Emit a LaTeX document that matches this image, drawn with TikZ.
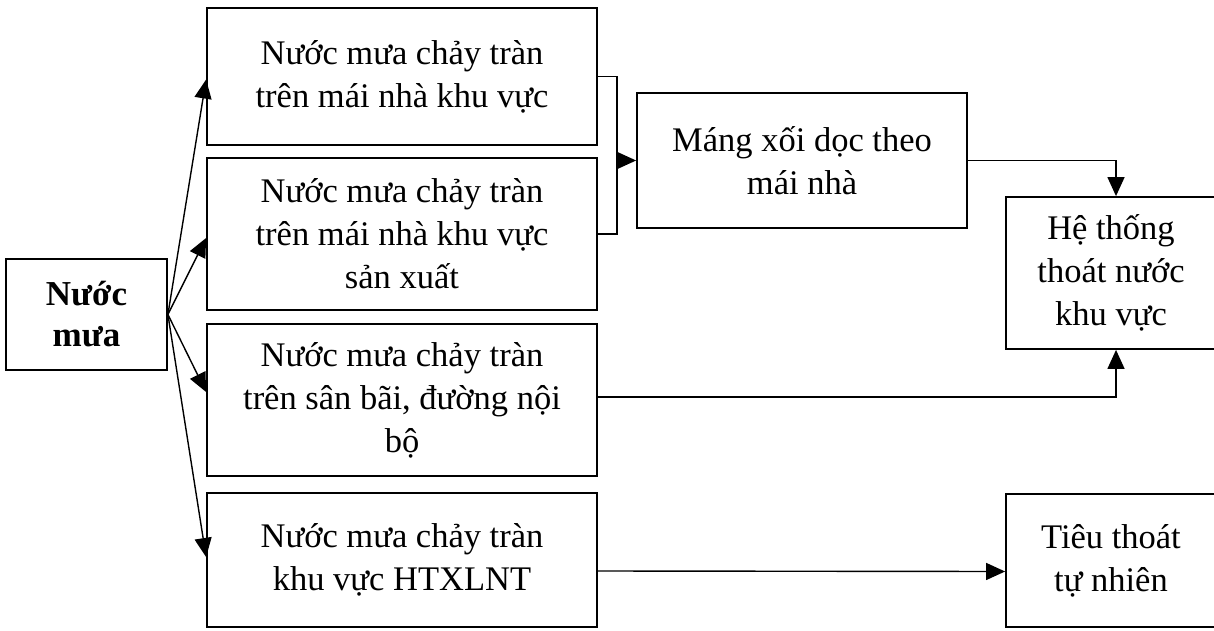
\documentclass[tikz,border=0pt]{standalone}
\usepackage{fontspec}
\setmainfont{Liberation Serif}
\usetikzlibrary{arrows.meta,calc}
\begin{document}
\begin{tikzpicture}[x=1pt,y=-1pt,
  box/.style={draw,line width=1.8pt,rectangle,align=center,inner sep=0pt,
    font=\fontsize{34.5}{43}\selectfont},
  conn/.style={line width=1.4pt},
  arrow/.style={conn,-{Triangle[length=19pt,width=17pt]}}]
\useasboundingbox[clip] (0,0) rectangle (1214,631);
\fill[white] (0,0) rectangle (1214,631);

% source and the four runoff paths
\node[box,minimum width=161pt,minimum height=111pt,font=\fontsize{35}{41}\selectfont\bfseries]
  (nm) at (86.5,314.5) {Nước\\mưa};
\node[box,minimum width=390pt,minimum height=137pt] (b1) at (402,76.5)
  {Nước mưa chảy tràn\\trên mái nhà khu vực};
\node[box,minimum width=390pt,minimum height=152pt] (b2) at (402,234)
  {Nước mưa chảy tràn\\trên mái nhà khu vực\\sản xuất};
\node[box,minimum width=390pt,minimum height=152pt] (b3) at (402,400)
  {Nước mưa chảy tràn\\trên sân bãi, đường nội\\bộ};
\node[box,minimum width=390pt,minimum height=134pt] (b4) at (402,560)
  {Nước mưa chảy tràn\\khu vực HTXLNT};

% receivers
\node[box,minimum width=330pt,minimum height=135pt] (mx) at (802,160.5)
  {Máng xối dọc theo\\mái nhà};
\node[box,minimum width=210pt,minimum height=152pt] (ht) at (1111,273)
  {Hệ thống\\thoát nước\\khu vực};
\node[box,minimum width=210pt,minimum height=133pt] (tt) at (1111,560.5)
  {Tiêu thoát\\tự nhiên};

% fan-out from the source
\draw[arrow] (nm.east) -- ($(b1.west)+(0,3)$);
\draw[arrow] (nm.east) -- ($(b2.west)+(0,4)$);
\draw[arrow] (nm.east) -- ($(b3.west)+(0,-8)$);
\draw[arrow] (nm.east) -- ($(b4.west)+(0,-3)$);

% roof runoff collected into the gutter
\draw[line width=1.8pt] (b1.east) -- ++(19,0) coordinate (bk) |- (b2.east);
\draw[arrow] (bk |- mx.west) -- (mx.west);

% to the drainage system and natural outlet
\draw[arrow] (mx.east) -| ($(ht.north)+(5,0)$);
\draw[arrow] ($(b3.east)+(0,-3)$) -| ($(ht.south)+(5,0)$);
\draw[arrow] ($(b4.east)+(0,11)$) -- ($(tt.west)+(0,11)$);
\end{tikzpicture}
\end{document}
